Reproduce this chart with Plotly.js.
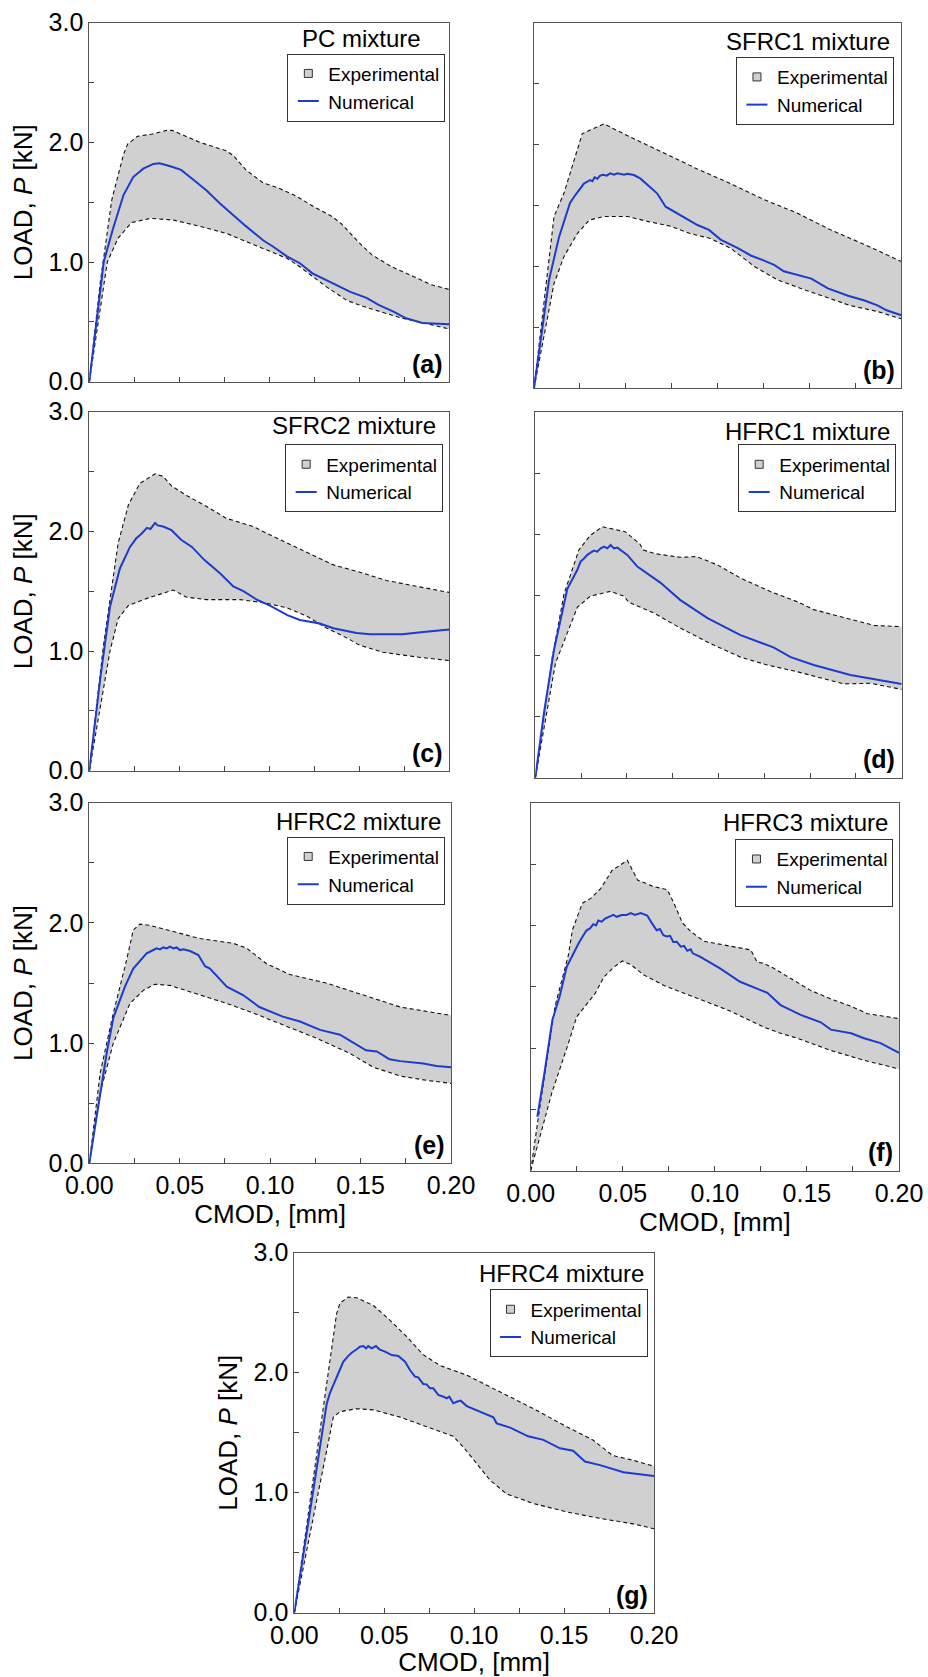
<!DOCTYPE html>
<html>
<head>
<meta charset="utf-8">
<script src="https://cdn.plot.ly/plotly-3.0.1.min.js"></script>
<style>html,body{margin:0;padding:0;background:#fff}</style>
</head>
<body>
<div id="chart" style="width:928px;height:1677px"></div>
<script>
// ---------------- DATA (CMOD in mm, LOAD in kN) ----------------
// (a) PC mixture
const pcUpperX = [0, 0.006, 0.0125, 0.019, 0.0213, 0.0267, 0.035, 0.043, 0.046, 0.0615, 0.076, 0.080, 0.087, 0.0967, 0.105, 0.115, 0.125, 0.135, 0.140, 0.150, 0.157, 0.168, 0.180, 0.190, 0.200];
const pcUpperY = [0, 0.82, 1.52, 1.90, 1.985, 2.05, 2.07, 2.10, 2.10, 2.00, 1.93, 1.89, 1.77, 1.66, 1.62, 1.55, 1.46, 1.38, 1.32, 1.16, 1.06, 0.96, 0.88, 0.81, 0.77];
const pcLowerX = [0, 0.010, 0.016, 0.0235, 0.034, 0.047, 0.061, 0.076, 0.089, 0.100, 0.110, 0.117, 0.124, 0.132, 0.143, 0.152, 0.165, 0.174, 0.186, 0.200];
const pcLowerY = [0, 1.00, 1.20, 1.33, 1.365, 1.35, 1.30, 1.24, 1.16, 1.09, 1.03, 0.96, 0.88, 0.79, 0.68, 0.63, 0.57, 0.53, 0.49, 0.44];
const pcNumX = [0, 0.008, 0.013, 0.019, 0.0244, 0.030, 0.0356, 0.039, 0.045, 0.051, 0.058, 0.065, 0.0726, 0.080, 0.087, 0.0967, 0.102, 0.110, 0.117, 0.124, 0.1356, 0.145, 0.154, 0.161, 0.169, 0.176, 0.185, 0.200];
const pcNumY = [0, 1.0, 1.27, 1.56, 1.71, 1.78, 1.82, 1.825, 1.80, 1.77, 1.685, 1.60, 1.49, 1.39, 1.30, 1.18, 1.13, 1.045, 0.99, 0.905, 0.82, 0.75, 0.70, 0.64, 0.585, 0.53, 0.49, 0.48];

// (b) SFRC1 mixture
const sfrc1UpperX = [0, 0.0109, 0.0163, 0.0263, 0.0381, 0.0526, 0.0708, 0.0889, 0.107, 0.125, 0.143, 0.1615, 0.180, 0.200];
const sfrc1UpperY = [0, 1.41, 1.60, 2.09, 2.17, 2.06, 1.93, 1.80, 1.68, 1.55, 1.44, 1.30, 1.18, 1.04];
const sfrc1LowerX = [0, 0.0109, 0.0163, 0.0236, 0.030, 0.038, 0.051, 0.0617, 0.0744, 0.085, 0.096, 0.107, 0.120, 0.1325, 0.147, 0.160, 0.172, 0.187, 0.200];
const sfrc1LowerY = [0, 0.86, 1.08, 1.27, 1.38, 1.41, 1.41, 1.37, 1.33, 1.27, 1.23, 1.15, 1.00, 0.89, 0.81, 0.74, 0.68, 0.63, 0.57];
const sfrc1NumX = [0, 0.0082, 0.0136, 0.0196, 0.0227, 0.0272, 0.029, 0.0305, 0.0318, 0.033, 0.0345, 0.036, 0.0377, 0.0396, 0.0414, 0.0436, 0.0454, 0.049, 0.0508, 0.0544, 0.058, 0.0635, 0.067, 0.0717, 0.078, 0.0853, 0.089, 0.0953, 0.1016, 0.111, 0.118, 0.125, 0.131, 0.136, 0.147, 0.151, 0.160, 0.171, 0.180, 0.187, 0.192, 0.200];
const sfrc1NumY = [0, 0.89, 1.24, 1.52, 1.59, 1.68, 1.695, 1.709, 1.70, 1.731, 1.72, 1.745, 1.753, 1.745, 1.764, 1.753, 1.764, 1.753, 1.761, 1.75, 1.72, 1.65, 1.60, 1.49, 1.435, 1.37, 1.34, 1.30, 1.22, 1.15, 1.09, 1.05, 1.01, 0.96, 0.92, 0.90, 0.82, 0.76, 0.72, 0.68, 0.64, 0.60];

// (c) SFRC2 mixture
const sfrc2UpperX = [0, 0.0078, 0.016, 0.0217, 0.028, 0.0365, 0.041, 0.0457, 0.054, 0.065, 0.076, 0.091, 0.106, 0.124, 0.1356, 0.150, 0.165, 0.182, 0.200];
const sfrc2UpperY = [0, 1.04, 1.90, 2.22, 2.40, 2.48, 2.46, 2.38, 2.30, 2.21, 2.11, 2.04, 1.93, 1.80, 1.72, 1.66, 1.59, 1.54, 1.49];
const sfrc2LowerX = [0, 0.0115, 0.016, 0.0217, 0.032, 0.0467, 0.054, 0.065, 0.0837, 0.0985, 0.110, 0.121, 0.132, 0.143, 0.150, 0.163, 0.182, 0.200];
const sfrc2LowerY = [0, 1.00, 1.27, 1.38, 1.44, 1.51, 1.45, 1.43, 1.43, 1.40, 1.36, 1.29, 1.19, 1.11, 1.05, 0.99, 0.95, 0.92];
const sfrc2NumX = [0, 0.006, 0.0115, 0.017, 0.0226, 0.026, 0.029, 0.032, 0.034, 0.0365, 0.038, 0.041, 0.0457, 0.051, 0.057, 0.064, 0.0726, 0.080, 0.0856, 0.093, 0.1004, 0.110, 0.117, 0.128, 0.1356, 0.143, 0.1485, 0.156, 0.174, 0.1856, 0.200];
const sfrc2NumY = [0, 0.76, 1.37, 1.69, 1.87, 1.94, 1.98, 2.03, 2.02, 2.07, 2.05, 2.04, 2.01, 1.93, 1.87, 1.76, 1.65, 1.54, 1.50, 1.43, 1.38, 1.30, 1.26, 1.23, 1.19, 1.17, 1.15, 1.14, 1.14, 1.16, 1.18];

// (d) HFRC1 mixture
const hfrc1UpperX = [0, 0.0093, 0.0157, 0.0238, 0.030, 0.0366, 0.049, 0.057, 0.059, 0.065, 0.079, 0.088, 0.099, 0.112, 0.128, 0.143, 0.152, 0.170, 0.185, 0.200];
const hfrc1UpperY = [0, 0.99, 1.51, 1.87, 1.99, 2.06, 2.02, 1.92, 1.87, 1.84, 1.81, 1.815, 1.75, 1.64, 1.53, 1.445, 1.38, 1.31, 1.25, 1.24];
const hfrc1LowerX = [0, 0.011, 0.023, 0.030, 0.041, 0.0484, 0.051, 0.065, 0.079, 0.0957, 0.112, 0.1267, 0.143, 0.161, 0.1685, 0.183, 0.200];
const hfrc1LowerY = [0, 0.94, 1.40, 1.49, 1.53, 1.49, 1.44, 1.35, 1.23, 1.10, 0.99, 0.925, 0.87, 0.80, 0.77, 0.775, 0.725];
const hfrc1NumX = [0, 0.0047, 0.0102, 0.0175, 0.0229, 0.0247, 0.0266, 0.0284, 0.0302, 0.032, 0.0338, 0.0357, 0.0375, 0.0393, 0.0411, 0.043, 0.0448, 0.0475, 0.0502, 0.0557, 0.0684, 0.079, 0.094, 0.112, 0.130, 0.1394, 0.152, 0.172, 0.183, 0.200];
const hfrc1NumY = [0, 0.53, 1.05, 1.55, 1.705, 1.774, 1.80, 1.83, 1.848, 1.864, 1.856, 1.883, 1.897, 1.883, 1.911, 1.883, 1.889, 1.856, 1.829, 1.733, 1.60, 1.46, 1.31, 1.17, 1.07, 0.99, 0.925, 0.843, 0.816, 0.77];

// (e) HFRC2 mixture
const hfrc2UpperX = [0, 0.006, 0.0133, 0.0206, 0.0243, 0.028, 0.0335, 0.043, 0.061, 0.0796, 0.087, 0.098, 0.111, 0.131, 0.153, 0.172, 0.200];
const hfrc2UpperY = [0, 0.75, 1.25, 1.69, 1.94, 1.99, 1.98, 1.94, 1.87, 1.83, 1.79, 1.66, 1.57, 1.50, 1.39, 1.30, 1.23];
const hfrc2LowerX = [0, 0.0059, 0.0133, 0.0225, 0.030, 0.0363, 0.0446, 0.061, 0.076, 0.0907, 0.107, 0.1257, 0.144, 0.157, 0.172, 0.1865, 0.200];
const hfrc2LowerY = [0, 0.58, 1.00, 1.33, 1.44, 1.49, 1.48, 1.40, 1.33, 1.25, 1.15, 1.04, 0.915, 0.80, 0.726, 0.69, 0.665];
const hfrc2NumX = [0, 0.0059, 0.0096, 0.0133, 0.0197, 0.0243, 0.0299, 0.0317, 0.0335, 0.0354, 0.0372, 0.0391, 0.0409, 0.0428, 0.0446, 0.0465, 0.0483, 0.0501, 0.052, 0.0557, 0.0603, 0.064, 0.0667, 0.076, 0.085, 0.094, 0.107, 0.1165, 0.1276, 0.1386, 0.146, 0.153, 0.159, 0.166, 0.172, 0.1847, 0.192, 0.200];
const hfrc2NumY = [0, 0.58, 0.915, 1.21, 1.47, 1.62, 1.719, 1.747, 1.76, 1.774, 1.788, 1.78, 1.796, 1.788, 1.802, 1.788, 1.796, 1.774, 1.78, 1.766, 1.733, 1.64, 1.62, 1.47, 1.40, 1.30, 1.22, 1.18, 1.11, 1.07, 1.00, 0.94, 0.93, 0.865, 0.85, 0.83, 0.81, 0.80];

// (f) HFRC3 mixture
const hfrc3UpperX = [0, 0.0042, 0.0132, 0.0205, 0.0226, 0.028, 0.0326, 0.038, 0.0443, 0.0525, 0.058, 0.066, 0.0742, 0.0778, 0.0824, 0.0869, 0.0941, 0.1195, 0.123, 0.1267, 0.132, 0.152, 0.163, 0.174, 0.183, 0.200];
const hfrc3UpperY = [0, 0.44, 1.34, 1.76, 1.96, 2.18, 2.22, 2.30, 2.45, 2.53, 2.37, 2.32, 2.29, 2.18, 2.02, 1.95, 1.87, 1.80, 1.70, 1.69, 1.65, 1.47, 1.40, 1.34, 1.28, 1.24];
const hfrc3LowerX = [0, 0.0114, 0.0205, 0.025, 0.035, 0.0398, 0.0452, 0.0498, 0.0543, 0.0615, 0.0724, 0.0905, 0.1086, 0.1267, 0.1357, 0.1448, 0.163, 0.181, 0.200];
const hfrc3LowerY = [0, 0.63, 1.04, 1.255, 1.445, 1.58, 1.66, 1.71, 1.68, 1.595, 1.51, 1.405, 1.30, 1.17, 1.12, 1.08, 0.98, 0.90, 0.83];
const hfrc3NumX = [0.0036, 0.0072, 0.0118, 0.0159, 0.0195, 0.0231, 0.0259, 0.0286, 0.0304, 0.0322, 0.034, 0.0355, 0.0367, 0.0386, 0.0404, 0.0449, 0.0467, 0.0494, 0.0521, 0.0543, 0.0566, 0.0597, 0.0633, 0.0657, 0.0684, 0.0702, 0.072, 0.0739, 0.0757, 0.0774, 0.0793, 0.0815, 0.0833, 0.085, 0.0869, 0.088, 0.0919, 0.1028, 0.1137, 0.1285, 0.1357, 0.1466, 0.1575, 0.163, 0.174, 0.181, 0.190, 0.200];
const hfrc3NumY = [0.44, 0.77, 1.23, 1.43, 1.66, 1.77, 1.85, 1.92, 1.96, 1.975, 2.01, 2.0, 2.04, 2.03, 2.055, 2.085, 2.07, 2.085, 2.085, 2.10, 2.085, 2.10, 2.08, 2.02, 1.96, 1.97, 1.92, 1.91, 1.915, 1.865, 1.867, 1.826, 1.832, 1.793, 1.805, 1.772, 1.745, 1.65, 1.54, 1.45, 1.35, 1.27, 1.21, 1.15, 1.12, 1.08, 1.04, 0.96];

// (g) HFRC4 mixture
const hfrc4UpperX = [0, 0.0069, 0.0143, 0.0235, 0.0254, 0.030, 0.0347, 0.044, 0.053, 0.0625, 0.0717, 0.081, 0.0958, 0.114, 0.133, 0.1514, 0.166, 0.177, 0.1885, 0.200];
const hfrc4UpperY = [0, 0.72, 1.49, 2.49, 2.58, 2.63, 2.625, 2.56, 2.44, 2.30, 2.15, 2.06, 1.98, 1.84, 1.70, 1.55, 1.44, 1.31, 1.27, 1.22];
const hfrc4LowerX = [0, 0.0087, 0.016, 0.0217, 0.0254, 0.0347, 0.044, 0.0588, 0.0736, 0.0884, 0.094, 0.1014, 0.1088, 0.118, 0.133, 0.1514, 0.170, 0.1885, 0.200];
const hfrc4LowerY = [0, 0.66, 1.22, 1.63, 1.675, 1.70, 1.69, 1.63, 1.55, 1.47, 1.38, 1.24, 1.105, 0.99, 0.91, 0.84, 0.786, 0.74, 0.70];
const hfrc4NumX = [0, 0.0069, 0.0124, 0.018, 0.0198, 0.0236, 0.0272, 0.030, 0.0319, 0.0347, 0.0365, 0.0384, 0.0399, 0.0411, 0.043, 0.0454, 0.0473, 0.0504, 0.0542, 0.0578, 0.0616, 0.0643, 0.0671, 0.0689, 0.0717, 0.0736, 0.0754, 0.0773, 0.0801, 0.0829, 0.0847, 0.0862, 0.0884, 0.0903, 0.0925, 0.0959, 0.1107, 0.1125, 0.120, 0.130, 0.1385, 0.1477, 0.155, 0.1616, 0.170, 0.183, 0.200];
const hfrc4NumY = [0, 0.66, 1.22, 1.74, 1.83, 1.967, 2.09, 2.14, 2.167, 2.195, 2.217, 2.222, 2.203, 2.222, 2.203, 2.222, 2.195, 2.175, 2.147, 2.139, 2.092, 2.022, 1.967, 1.961, 1.906, 1.903, 1.87, 1.87, 1.814, 1.80, 1.787, 1.80, 1.745, 1.758, 1.767, 1.722, 1.628, 1.578, 1.542, 1.47, 1.44, 1.37, 1.35, 1.26, 1.23, 1.17, 1.14];

// Tick values / labels
const xTickVals = [0, 0.025, 0.05, 0.075, 0.10, 0.125, 0.15, 0.175, 0.20];
const xTickText = ['0.00', '', '0.05', '', '0.10', '', '0.15', '', '0.20'];
const yTickVals = [0, 0.5, 1.0, 1.5, 2.0, 2.5, 3.0];
const yTickText = ['0.0', '', '1.0', '', '2.0', '', '3.0'];
const mixtureNames = ['PC mixture', 'SFRC1 mixture', 'SFRC2 mixture', 'HFRC1 mixture', 'HFRC2 mixture', 'HFRC3 mixture', 'HFRC4 mixture'];
const panelTags = ['(a)', '(b)', '(c)', '(d)', '(e)', '(f)', '(g)'];
const seriesNames = ['Experimental', 'Numerical'];

// ---------------- LAYOUT / STYLE ----------------
const W = 928, H = 1677;
const FONT = '"Liberation Sans", Arial, Helvetica, sans-serif';
const BLUE = '#1c3ccc';
const FILL = '#d0d0d0';

const panels = [
  {up:[pcUpperX, pcUpperY], lo:[pcLowerX, pcLowerY], num:[pcNumX, pcNumY], box:[89.3, 449.3, 22.7, 381.7], xl:false, yl:true, tpos:[0.757, 0.957], lpos:[0.989, 0.914]},
  {up:[sfrc1UpperX, sfrc1UpperY], lo:[sfrc1LowerX, sfrc1LowerY], num:[sfrc1NumX, sfrc1NumY], box:[534, 901.3, 22.7, 388.3], xl:false, yl:false, tpos:[0.745, 0.948], lpos:[0.980, 0.906]},
  {up:[sfrc2UpperX, sfrc2UpperY], lo:[sfrc2LowerX, sfrc2LowerY], num:[sfrc2NumX, sfrc2NumY], box:[89.3, 449.3, 411.7, 770.7], xl:false, yl:true, tpos:[0.735, 0.961], lpos:[0.983, 0.909]},
  {up:[hfrc1UpperX, hfrc1UpperY], lo:[hfrc1LowerX, hfrc1LowerY], num:[hfrc1NumX, hfrc1NumY], box:[535.3, 901.7, 412.3, 777.7], xl:false, yl:false, tpos:[0.744, 0.947], lpos:[0.985, 0.912]},
  {up:[hfrc2UpperX, hfrc2UpperY], lo:[hfrc2LowerX, hfrc2LowerY], num:[hfrc2NumX, hfrc2NumY], box:[89.3, 451, 802.7, 1163.3], xl:true, yl:true, tpos:[0.745, 0.947], lpos:[0.984, 0.906]},
  {up:[hfrc3UpperX, hfrc3UpperY], lo:[hfrc3LowerX, hfrc3LowerY], num:[hfrc3NumX, hfrc3NumY], box:[530.7, 899, 802.7, 1170.7], xl:true, yl:false, tpos:[0.745, 0.947], lpos:[0.985, 0.901]},
  {up:[hfrc4UpperX, hfrc4UpperY], lo:[hfrc4LowerX, hfrc4LowerY], num:[hfrc4NumX, hfrc4NumY], box:[294.3, 654, 1252.7, 1612.7], xl:true, yl:true, tpos:[0.743, 0.943], lpos:[0.982, 0.898]}
];

const traces = [];
const layout = {
  width: W, height: H,
  margin: {l: 0, r: 0, t: 0, b: 0},
  paper_bgcolor: '#fff', plot_bgcolor: '#fff',
  font: {family: FONT, color: '#000'},
  showlegend: true,
  annotations: []
};

const dashLine = {color: '#111', width: 1.1, dash: '4px,3px'};

panels.forEach((p, i) => {
  const s = i === 0 ? '' : String(i + 1);
  const xa = 'x' + s, ya = 'y' + s;
  const legName = 'legend' + s;
  const dx = [p.box[0] / W, p.box[1] / W];
  const dy = [1 - p.box[3] / H, 1 - p.box[2] / H];

  traces.push({type: 'scatter', mode: 'lines', x: p.lo[0], y: p.lo[1], xaxis: xa, yaxis: ya,
    line: dashLine, showlegend: false, hoverinfo: 'skip'});
  traces.push({type: 'scatter', mode: 'lines', x: p.up[0], y: p.up[1], xaxis: xa, yaxis: ya,
    line: dashLine, fill: 'tonexty', fillcolor: FILL, showlegend: false, hoverinfo: 'skip'});
  traces.push({type: 'scatter', mode: 'lines', x: p.num[0], y: p.num[1], xaxis: xa, yaxis: ya,
    line: {color: BLUE, width: 2}, showlegend: false});
  // legend entries
  traces.push({type: 'scatter', mode: 'markers', x: [null], y: [null], xaxis: xa, yaxis: ya,
    name: seriesNames[0], legend: legName, showlegend: true,
    marker: {symbol: 'square', size: 8, color: FILL, line: {color: '#333', width: 1}}});
  traces.push({type: 'scatter', mode: 'markers', x: [null], y: [null], xaxis: xa, yaxis: ya,
    name: seriesNames[1], legend: legName, showlegend: true,
    marker: {symbol: 'line-ew', size: 15, color: BLUE, line: {color: BLUE, width: 2}}});

  layout['xaxis' + s] = {
    domain: dx, anchor: ya, range: [0, 0.2],
    tickmode: 'array', tickvals: xTickVals, ticktext: xTickText,
    ticks: 'inside', ticklen: 5, tickwidth: 1, tickcolor: '#444',
    showline: true, mirror: true, linecolor: '#555', linewidth: 1,
    showgrid: false, zeroline: false, showticklabels: p.xl,
    tickfont: {size: 25, family: FONT, color: '#000'},
    title: p.xl ? {text: 'CMOD, [mm]', font: {size: 26, family: FONT, color: '#000'}, standoff: 2} : {text: ''}
  };
  layout['yaxis' + s] = {
    domain: dy, anchor: xa, range: [0, 3],
    tickmode: 'array', tickvals: yTickVals, ticktext: yTickText,
    ticks: 'inside', ticklen: 5, tickwidth: 1, tickcolor: '#444',
    showline: true, mirror: true, linecolor: '#555', linewidth: 1,
    showgrid: false, zeroline: false, showticklabels: p.yl,
    tickfont: {size: 25, family: FONT, color: '#000'},
    title: p.yl ? {text: 'LOAD, <i>P</i> [kN]', font: {size: 26, family: FONT, color: '#000'}, standoff: 8} : {text: ''}
  };
  layout[legName] = {
    x: dx[0] + p.lpos[0] * (dx[1] - dx[0]),
    y: dy[0] + p.lpos[1] * (dy[1] - dy[0]),
    xanchor: 'right', yanchor: 'top',
    bgcolor: '#fff', bordercolor: '#333', borderwidth: 1,
    font: {size: 19, family: FONT, color: '#000'},
    traceorder: 'normal', tracegroupgap: 0
  };
  layout.annotations.push({
    xref: xa + ' domain', yref: ya + ' domain', x: p.tpos[0], y: p.tpos[1],
    xanchor: 'center', yanchor: 'middle', showarrow: false,
    text: mixtureNames[i], font: {size: 24, family: FONT, color: '#000'}
  });
  layout.annotations.push({
    xref: xa + ' domain', yref: ya + ' domain', x: 0.988, y: 0.05,
    xanchor: 'right', yanchor: 'middle', showarrow: false,
    text: '<b>' + panelTags[i] + '</b>', font: {size: 25, family: FONT, color: '#000'}
  });
});

Plotly.newPlot('chart', traces, layout, {displayModeBar: false, staticPlot: true});
</script>
</body>
</html>
